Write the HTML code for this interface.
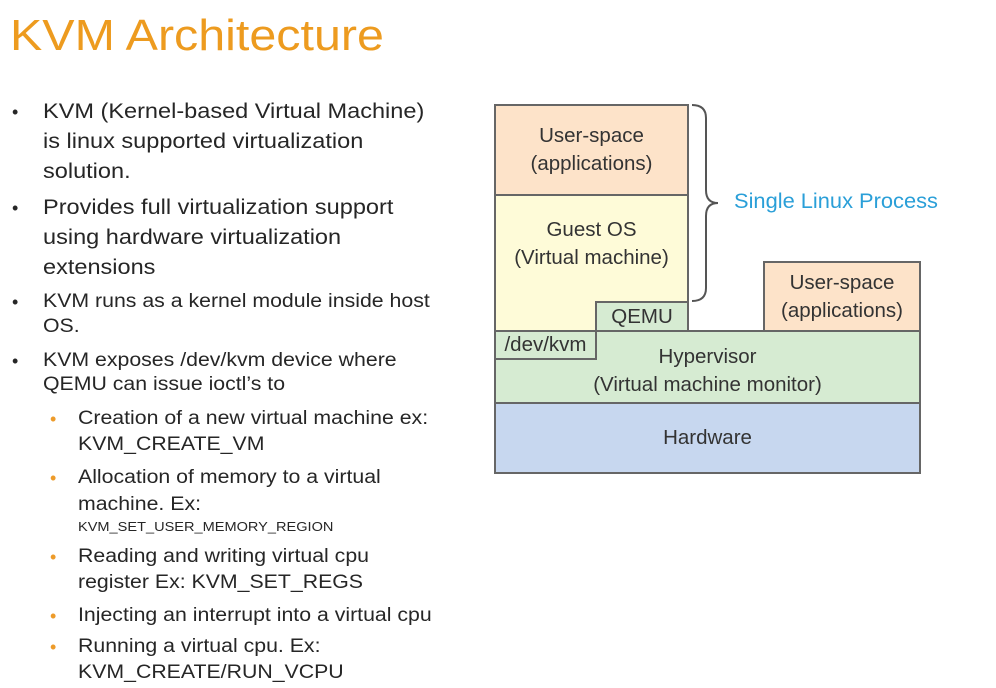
<!DOCTYPE html>
<html><head><meta charset="utf-8"><style>
body{margin:0;width:996px;height:683px;overflow:hidden;background:#fff;position:relative;font-family:"Liberation Sans",sans-serif;color:#262626}
.t{position:absolute;white-space:nowrap;line-height:30px;height:30px;transform:scaleX(1.12);transform-origin:0 50%}
.b{font-size:21px}
.s{font-size:19px}
.d{position:absolute;font-size:18px;line-height:30px}
.o{color:#ed9b2a}
.bx{position:absolute;box-sizing:border-box;border:2px solid #666;display:flex;align-items:center;justify-content:center;text-align:center;font-size:20.5px;color:#333;line-height:28px}
</style></head><body>
<div class="t" style="left:10px;top:10px;height:52px;line-height:52px;font-size:44px;color:#ed9b1f;transform:scaleX(1.1)">KVM Architecture</div>

<div class="d" style="left:12px;top:97px">•</div>
<div class="t b" style="left:43px;top:97px">KVM (Kernel-based Virtual Machine)</div>
<div class="t b" style="left:43px;top:127px">is linux supported virtualization</div>
<div class="t b" style="left:43px;top:157px">solution.</div>
<div class="d" style="left:12px;top:193px">•</div>
<div class="t b" style="left:43px;top:193px">Provides full virtualization support</div>
<div class="t b" style="left:43px;top:223px">using hardware virtualization</div>
<div class="t b" style="left:43px;top:253px">extensions</div>
<div class="d" style="left:12px;top:287px">•</div>
<div class="t s" style="left:43px;top:287px">KVM runs as a kernel module inside host</div>
<div class="t s" style="left:43px;top:312px">OS.</div>
<div class="d" style="left:12px;top:346px">•</div>
<div class="t s" style="left:43px;top:346px">KVM exposes /dev/kvm device where</div>
<div class="t s" style="left:43px;top:370px">QEMU can issue ioctl’s to</div>

<div class="d o" style="left:50px;top:404px">•</div>
<div class="t s" style="left:78px;top:404px">Creation of a new virtual machine ex:</div>
<div class="t s" style="left:78px;top:430px">KVM_CREATE_VM</div>
<div class="d o" style="left:50px;top:463px">•</div>
<div class="t s" style="left:78px;top:463px">Allocation of memory to a virtual</div>
<div class="t s" style="left:78px;top:490px">machine. Ex:</div>
<div class="t" style="left:78px;top:512px;font-size:13px">KVM_SET_USER_MEMORY_REGION</div>
<div class="d o" style="left:50px;top:542px">•</div>
<div class="t s" style="left:78px;top:542px">Reading and writing virtual cpu</div>
<div class="t s" style="left:78px;top:568px">register Ex: KVM_SET_REGS</div>
<div class="d o" style="left:50px;top:601px">•</div>
<div class="t s" style="left:78px;top:601px">Injecting an interrupt into a virtual cpu</div>
<div class="d o" style="left:50px;top:632px">•</div>
<div class="t s" style="left:78px;top:632px">Running a virtual cpu. Ex:</div>
<div class="t s" style="left:78px;top:658px">KVM_CREATE/RUN_VCPU</div>

<div class="bx" style="left:494px;top:104px;width:195px;height:92px;background:#fde3c9">User-space<br>(applications)</div>
<div class="bx" style="left:494px;top:194px;width:195px;height:138px;background:#fefbd8;align-items:flex-start;padding-top:20px">Guest OS<br>(Virtual machine)</div>
<div class="bx" style="left:595px;top:301px;width:94px;height:31px;background:#d6ebd2">QEMU</div>
<div class="bx" style="left:494px;top:330px;width:427px;height:74px;background:#d6ebd2;padding-top:8px">Hypervisor<br>(Virtual machine monitor)</div>
<div class="bx" style="left:494px;top:330px;width:103px;height:30px;background:#d6ebd2">/dev/kvm</div>
<div class="bx" style="left:763px;top:261px;width:158px;height:71px;background:#fde3c9">User-space<br>(applications)</div>
<div class="bx" style="left:494px;top:402px;width:427px;height:72px;background:#c7d7ef">Hardware</div>

<svg style="position:absolute;left:688px;top:100px" width="40" height="210">
<path d="M4 5 Q18 5 18 18 L18 90 Q18 103 30 103 Q18 103 18 116 L18 188 Q18 201 4 201" fill="none" stroke="#555" stroke-width="2"/>
</svg>
<div class="t" style="left:734px;top:187px;font-size:21px;color:#2a9fd8;transform:scaleX(1.04)">Single Linux Process</div>
</body></html>
